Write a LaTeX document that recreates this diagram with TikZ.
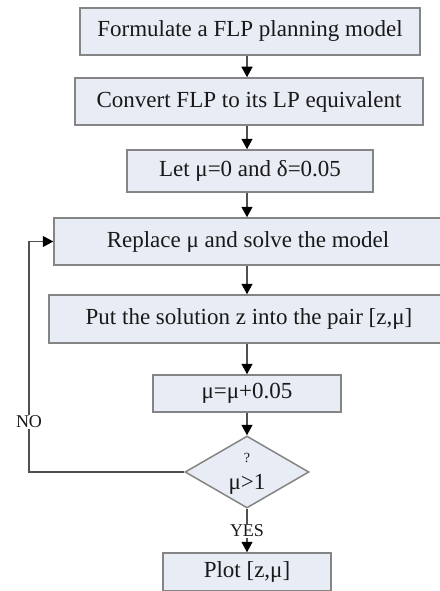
\documentclass[tikz,border=0pt]{standalone}
\usepackage{fontspec}
\setmainfont{Liberation Serif}
\usetikzlibrary{shapes.geometric,arrows.meta}
\definecolor{boxfill}{HTML}{E8ECF4}
\definecolor{boxline}{HTML}{858585}
\definecolor{linkline}{HTML}{505050}
\begin{document}
\begin{tikzpicture}[x=1pt,y=-1pt,
  stepbox/.style={draw=boxline,line width=1.5pt,fill=boxfill,inner sep=0pt,
    font=\fontsize{23}{26}\selectfont,text=black!90},
  decision/.style={diamond,draw=boxline,line width=1.5pt,fill=boxfill,inner sep=0pt,
    minimum width=124pt,minimum height=72pt},
  link/.style={draw=linkline,line width=1.3pt,
    -{Triangle[width=11pt,length=10.5pt,color=black]}},
  tag/.style={fill=white,inner sep=1pt,font=\fontsize{18}{20}\selectfont,text=black!90}]
\useasboundingbox (0,0) rectangle (439,591);
\fill[white] (0,0) rectangle (439,591);
\coordinate (axis) at (247,0);
\coordinate (loopx) at (29,0);

% process steps
\node[stepbox,minimum width=340pt,minimum height=47pt] (b1) at (250,31.5) {Formulate a FLP planning model};
\node[stepbox,minimum width=348pt,minimum height=47pt] (b2) at (249,101.5) {Convert FLP to its LP equivalent};
\node[stepbox,minimum width=246pt,minimum height=42pt] (b3) at (250,171) {Let μ=0 and δ=0.05};
\node[stepbox,minimum width=388pt,minimum height=47pt] (b4) at (248,241.5) {Replace μ and solve the model};
\node[stepbox,minimum width=400pt,minimum height=48pt] (b5) at (249,319) {Put the solution z into the pair [z,μ]};
\node[stepbox,minimum width=188pt,minimum height=37pt] (b6) at (247,393.5) {μ=μ+0.05};

% decision
\node[decision] (d) at (247,472) {};
\node[font=\fontsize{14}{16}\selectfont,text=black!90] (q) at (247,458) {?};
\node[font=\fontsize{23}{26}\selectfont,text=black!90] (cond) at (247,484) {μ>1};

\node[stepbox,minimum width=168pt,minimum height=38pt] (b7) at (247,572) {Plot [z,μ]};

% connectors
\draw[link] (b1.south -| axis) -- (b2.north -| axis);
\draw[link] (b2.south -| axis) -- (b3.north -| axis);
\draw[link] (b3.south -| axis) -- (b4.north -| axis);
\draw[link] (b4.south -| axis) -- (b5.north -| axis);
\draw[link] (b5.south -| axis) -- (b6.north -| axis);
\draw[link] (b6.south -| axis) -- (d.north);
\draw[link] (d.south) -- (b7.north);
\draw[link] (d.west) -- (d.west -| loopx) -- (b4.west -| loopx) -- (b4.west);

\node[tag] (yes) at (247,531) {YES};
\node[tag] (no) at (29,422) {NO};
\end{tikzpicture}
\end{document}
